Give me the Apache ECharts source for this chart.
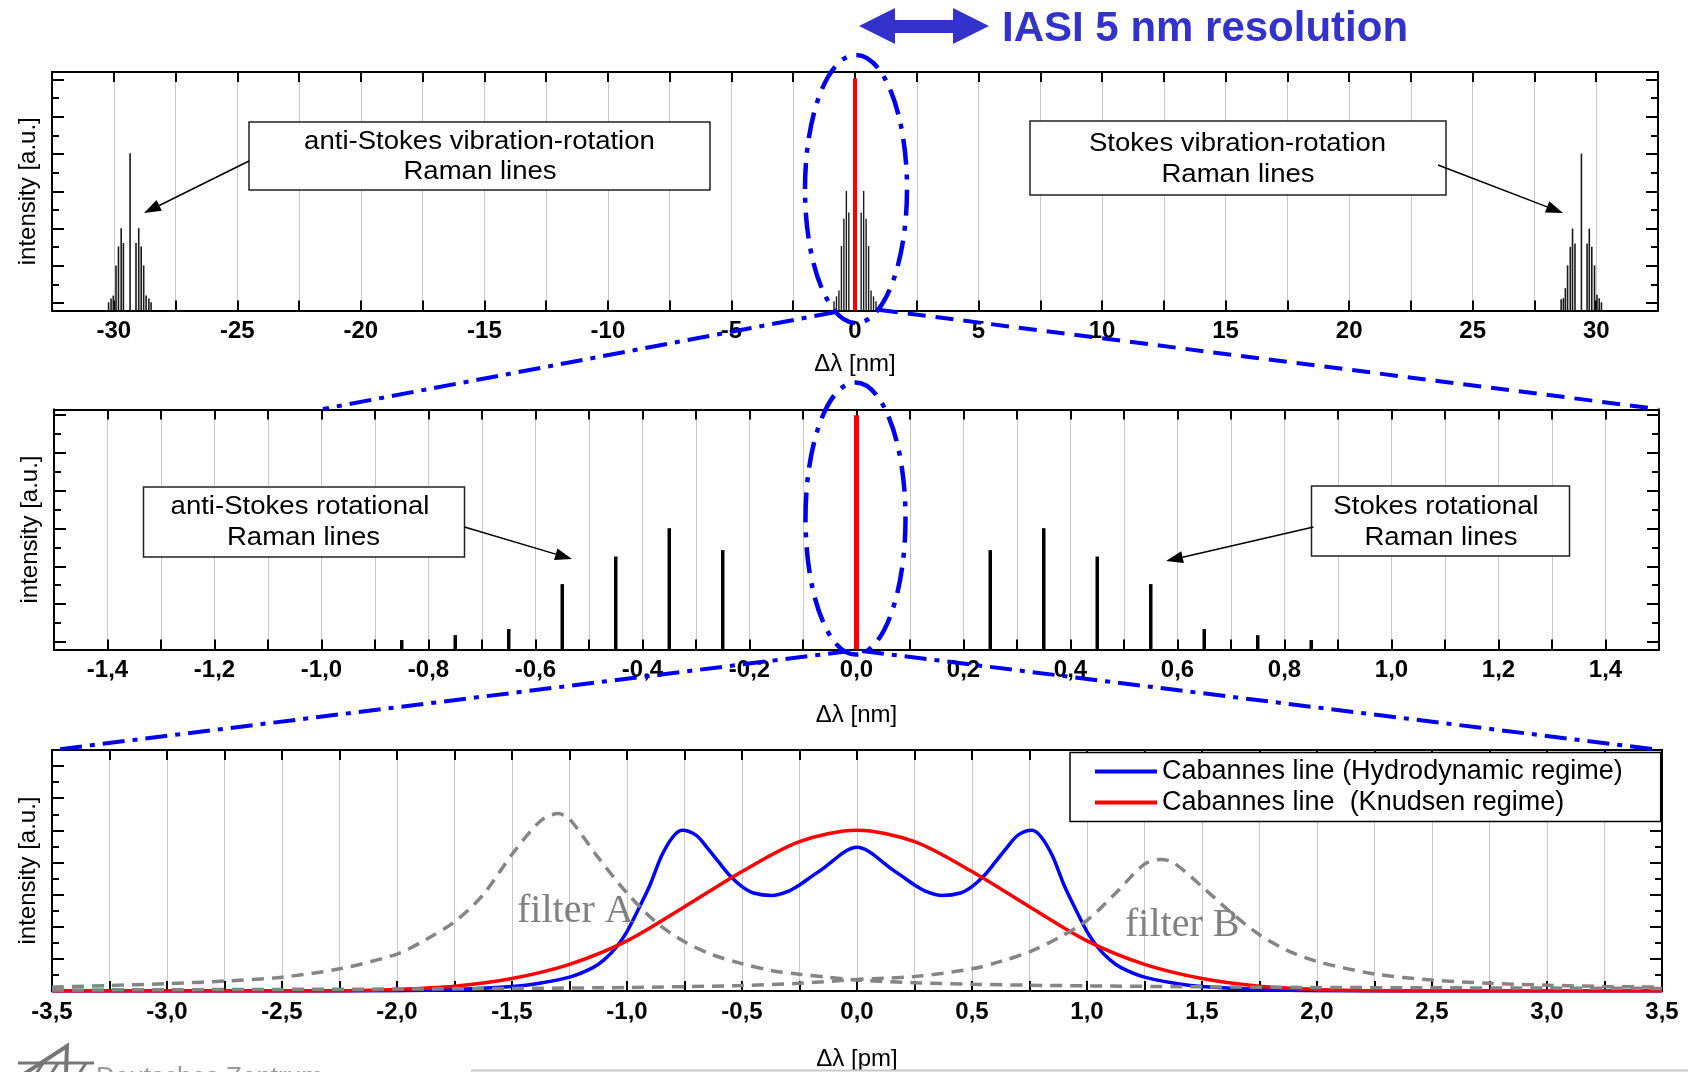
<!DOCTYPE html>
<html lang="en">
<head>
<meta charset="UTF-8">
<title>Raman / Cabannes lines</title>
<style>
    html, body { margin: 0; padding: 0; background: #ffffff; }
    #chart { width: 1688px; height: 1072px; }
</style>
</head>
<body>
<div id="chart"></div>
<script src="https://cdn.jsdelivr.net/npm/echarts@6/dist/echarts.min.js"></script>
<script>
    /* ---- data ---- */
    // top panel, vibration-rotation Raman lines [nm]
    var antiVibX = [-30.21, -30.11, -30.02, -29.91, -29.81, -29.70, -29.61, -29.34, -29.10, -28.99, -28.89, -28.79, -28.69, -28.58, -28.49];
    var antiVibY = [0.22, 0.32, 0.40, 1.21, 1.72, 2.21, 1.81, 4.22, 1.81, 2.21, 1.72, 1.21, 0.40, 0.32, 0.22];
    var stokesVibX = [28.58, 28.67, 28.75, 28.84, 28.95, 29.04, 29.14, 29.40, 29.63, 29.72, 29.82, 29.93, 30.03, 30.12, 30.21];
    var stokesVibY = [0.30, 0.33, 0.60, 1.21, 1.71, 2.20, 1.80, 4.21, 1.80, 2.20, 1.71, 1.21, 0.42, 0.33, 0.22];
    // rotational Raman lines [nm] (top centre + middle panel)
    var rotX = [-0.85, -0.75, -0.65, -0.55, -0.45, -0.35, -0.25, 0.25, 0.35, 0.45, 0.55, 0.65, 0.75, 0.85];
    var rotY = [0.25, 0.38, 0.54, 1.73, 2.46, 3.21, 2.63, 2.63, 3.21, 2.46, 1.73, 0.54, 0.38, 0.25];
    // Rayleigh (Cabannes) line
    var rayX = [0];
    var rayTopY = [6.23];
    var rayMidY = [6.2];

    // bottom panel [pm]
    var hydroX = [-3.5, -2.5, -2.0, -1.75, -1.5, -1.375, -1.25, -1.15, -1.1, -1.05, -1.0, -0.95, -0.9, -0.85, -0.8, -0.76, -0.7, -0.65, -0.6, -0.55, -0.5, -0.45, -0.37, -0.3, -0.25, -0.2, -0.15, -0.1, -0.05,
        0, 0.05, 0.1, 0.15, 0.2, 0.25, 0.3, 0.37, 0.45, 0.5, 0.55, 0.6, 0.65, 0.7, 0.76, 0.8, 0.85, 0.9, 0.95, 1.0, 1.05, 1.1, 1.15, 1.25, 1.375, 1.5, 1.75, 2.0, 2.5, 3.5];
    var hydroY = [0, 0, 0.01, 0.05, 0.14, 0.25, 0.43, 0.72, 0.97, 1.33, 1.85, 2.55, 3.3, 4.2, 4.8, 5.0, 4.85, 4.45, 4.0, 3.57, 3.25, 3.05, 2.97, 3.1, 3.3, 3.55, 3.8, 4.08, 4.35,
        4.47, 4.35, 4.08, 3.8, 3.55, 3.3, 3.1, 2.97, 3.05, 3.25, 3.57, 4.0, 4.45, 4.85, 5.0, 4.8, 4.2, 3.3, 2.55, 1.85, 1.33, 0.97, 0.72, 0.43, 0.25, 0.14, 0.05, 0.01, 0, 0];
    var knudsenX = [-3.5, -3.0, -2.5, -2.25, -2.0, -1.75, -1.5, -1.25, -1.0, -0.75, -0.5, -0.25, 0, 0.25, 0.5, 0.75, 1.0, 1.25, 1.5, 1.75, 2.0, 2.25, 2.5, 3.0, 3.5];
    var knudsenY = [0, 0, 0, 0.01, 0.05, 0.15, 0.39, 0.83, 1.56, 2.62, 3.72, 4.65, 5.0, 4.65, 3.72, 2.62, 1.56, 0.83, 0.39, 0.15, 0.05, 0.01, 0, 0, 0];
    var filterAX = [-3.5, -3.25, -3.0, -2.75, -2.5, -2.25, -2.0, -1.875, -1.75, -1.625, -1.5, -1.375, -1.3, -1.25, -1.125, -1.0, -0.875, -0.75, -0.625, -0.5, -0.375, -0.25, -0.125, 0, 0.25, 0.5, 0.75, 1.0, 1.5, 2.0, 2.5, 3.0, 3.5];
    var filterAY = [0.12, 0.17, 0.23, 0.31, 0.43, 0.69, 1.15, 1.6, 2.15, 3.0, 4.25, 5.3, 5.52, 5.35, 4.15, 3.05, 2.15, 1.53, 1.12, 0.85, 0.64, 0.52, 0.43, 0.34, 0.26, 0.21, 0.18, 0.16, 0.13, 0.11, 0.1, 0.09, 0.08];
    var filterBX = [-3.5, -3.0, -2.5, -2.0, -1.5, -1.0, -0.5, -0.25, 0, 0.25, 0.5, 0.625, 0.75, 0.875, 1.0, 1.125, 1.25, 1.32, 1.375, 1.5, 1.625, 1.75, 1.875, 2.0, 2.25, 2.5, 2.75, 3.0, 3.25, 3.5];
    var filterBY = [0.03, 0.04, 0.05, 0.06, 0.08, 0.11, 0.17, 0.24, 0.36, 0.45, 0.69, 0.92, 1.22, 1.65, 2.2, 3.05, 3.95, 4.09, 4.0, 3.25, 2.45, 1.75, 1.25, 0.92, 0.53, 0.34, 0.24, 0.18, 0.14, 0.12];

    // labelled ticks
    var topLabels = [-30, -25, -20, -15, -10, -5, 0, 5, 10, 15, 20, 25, 30];
    var midLabels = [-1.4, -1.2, -1.0, -0.8, -0.6, -0.4, -0.2, 0, 0.2, 0.4, 0.6, 0.8, 1.0, 1.2, 1.4];
    var botLabels = [-3.5, -3.0, -2.5, -2.0, -1.5, -1.0, -0.5, 0, 0.5, 1.0, 1.5, 2.0, 2.5, 3.0, 3.5];
    // y ticks (no labels)
    var nmMajorTicks = [0.2, 1.2, 2.2, 3.2, 4.2, 5.2, 6.2];
    var nmMinorTicks = [0.7, 1.7, 2.7, 3.7, 4.7, 5.7];
    var pmMajorTicks = [1, 2, 3, 4, 5, 6, 7];
    var pmMinorTicks = [0.5, 1.5, 2.5, 3.5, 4.5, 5.5, 6.5];

    var hydroName = 'Cabannes line (Hydrodynamic regime)';
    var knudsenName = 'Cabannes line  (Knudsen regime)';

    /* ---- helpers ---- */
    var FONT = '"Liberation Sans", Arial, sans-serif';
    var ZOOM_BLUE = '#0000f0';

    function pairs(xs, ys) {
        return xs.map(function (x, i) { return [x, ys[i]]; });
    }

    function stick(width, color) {
        return function (params, api) {
            var top = api.coord([api.value(0), api.value(1)]);
            var base = api.coord([api.value(0), 0]);
            return {
                type: 'rect',
                shape: {x: top[0] - width / 2, y: top[1], width: width, height: base[1] - top[1]},
                style: {fill: color}
            };
        };
    }

    function pick(list, v) {
        for (var i = 0; i < list.length; i++) {
            if (Math.abs(list[i] - v) < 1e-6) return list[i];
        }
        return null;
    }

    function xAxes(gi, min, max, step, labels, comma, name, nameGap) {
        var line = {onZero: false, lineStyle: {color: '#000', width: 2}};
        var tick = {inside: true, length: 10, lineStyle: {color: '#000', width: 2}};
        return [{
            gridIndex: gi, type: 'value', position: 'bottom', min: min, max: max, interval: step,
            name: name, nameLocation: 'middle', nameGap: nameGap,
            nameTextStyle: {fontFamily: FONT, fontSize: 24, color: '#000'},
            axisLine: line, axisTick: tick,
            axisLabel: {
                margin: 9, color: '#000', fontFamily: FONT, fontSize: 24, fontWeight: 'bold',
                formatter: function (v) {
                    var p = pick(labels, v);
                    if (p === null) return '';
                    return comma ? p.toFixed(1).replace('.', ',') : String(p);
                }
            },
            splitLine: {show: true, lineStyle: {color: '#c8c8c8', width: 1}}
        }, {
            gridIndex: gi, type: 'value', position: 'top', min: min, max: max, interval: step,
            axisLine: line, axisTick: tick, axisLabel: {show: false}, splitLine: {show: false}
        }];
    }

    function yAxes(gi, max, major, minor) {
        function one(pos, ticks, len, withName) {
            var a = {
                gridIndex: gi, type: 'value', position: pos, min: 0, max: max,
                axisLine: {show: true, onZero: false, lineStyle: {color: '#000', width: 2}},
                axisTick: {show: true, inside: true, length: len, customValues: ticks, lineStyle: {color: '#000', width: 2}},
                axisLabel: {show: false},
                splitLine: {show: false}
            };
            if (withName) {
                a.name = 'intensity [a.u.]';
                a.nameLocation = 'middle';
                a.nameRotate = 90;
                a.nameGap = 12;
                a.nameTextStyle = {fontFamily: FONT, fontSize: 24, color: '#000'};
            }
            return a;
        }
        return [one('left', major, 12, true), one('left', minor, 7, false),
            one('right', major, 12, false), one('right', minor, 7, false)];
    }

    function arrow(x1, y1, x2, y2) {
        var a = Math.atan2(y2 - y1, x2 - x1), L = 17, W = 6;
        var bx = x2 - L * Math.cos(a), by = y2 - L * Math.sin(a);
        var px = -Math.sin(a) * W, py = Math.cos(a) * W;
        return [
            {type: 'line', z: 100, shape: {x1: x1, y1: y1, x2: bx, y2: by}, style: {stroke: '#000', lineWidth: 1.5}},
            {type: 'polygon', z: 100, shape: {points: [[x2, y2], [bx + px, by + py], [bx - px, by - py]]}, style: {fill: '#000'}}
        ];
    }

    function note(cx, cy, txt) {
        return {
            type: 'text', z: 101, x: cx, y: cy, scaleX: 1.06,
            style: {text: txt, x: 0, y: 0, align: 'center', verticalAlign: 'middle',
                fontFamily: FONT, fontSize: 26, fill: '#000'}
        };
    }

    function box(x, y, w, h) {
        return {type: 'rect', z: 100, shape: {x: x, y: y, width: w, height: h},
            style: {fill: '#fff', stroke: '#222', lineWidth: 1.5}};
    }

    function zoomLine(x1, y1, x2, y2, dash) {
        return {type: 'line', z: 102, shape: {x1: x1, y1: y1, x2: x2, y2: y2},
            style: {stroke: ZOOM_BLUE, lineWidth: 4, lineDash: dash}};
    }

    var DASHDOT = [22, 8, 5, 8];

    var overlay = [
        // title
        {type: 'polygon', z: 100, shape: {points: [[859, 26], [895, 8], [895, 20], [953, 20], [953, 8], [989, 26], [953, 44], [953, 33], [895, 33], [895, 44]]},
            style: {fill: '#3333cc'}},
        {type: 'text', z: 100, style: {text: 'IASI 5 nm resolution', x: 1002, y: 29, align: 'left', verticalAlign: 'middle',
                fontFamily: FONT, fontSize: 42, fontWeight: 'bold', fill: '#3333cc'}},
        // ellipses around the central lines
        {type: 'ellipse', z: 102, shape: {cx: 856, cy: 189, rx: 51, ry: 134},
            style: {fill: 'none', stroke: ZOOM_BLUE, lineWidth: 4.5, lineDash: [26, 10, 5, 10]}},
        {type: 'ellipse', z: 102, shape: {cx: 855.5, cy: 518.5, rx: 50, ry: 136},
            style: {fill: 'none', stroke: ZOOM_BLUE, lineWidth: 4.5, lineDash: [26, 10, 5, 10]}},
        // zoom lines between panels
        zoomLine(836, 312, 323, 409, DASHDOT),
        zoomLine(880, 310, 1658, 409, [18, 10]),
        zoomLine(850, 651, 53, 750, DASHDOT),
        zoomLine(862, 651, 1660, 750, DASHDOT),
        // annotation boxes
        box(249, 122, 461, 68),
        note(479.5, 142, 'anti-Stokes vibration-rotation'),
        note(480, 172, 'Raman lines'),
        box(1030, 121, 416, 74),
        note(1237.5, 144, 'Stokes vibration-rotation'),
        note(1238, 175, 'Raman lines'),
        box(143.5, 487, 321, 70),
        note(300, 507, 'anti-Stokes rotational'),
        note(303.5, 538, 'Raman lines'),
        box(1311.5, 486, 258, 70),
        note(1436, 507, 'Stokes rotational'),
        note(1441, 538, 'Raman lines'),
        // filter labels
        {type: 'text', z: 100, style: {text: 'filter A', x: 517, y: 911, align: 'left', verticalAlign: 'middle',
                fontFamily: '"Liberation Serif", "Times New Roman", serif', fontSize: 40, fill: '#808080'}},
        {type: 'text', z: 100, style: {text: 'filter B', x: 1125, y: 925, align: 'left', verticalAlign: 'middle',
                fontFamily: '"Liberation Serif", "Times New Roman", serif', fontSize: 40, fill: '#808080'}},
        // cut-off footer
        {type: 'line', z: 100, shape: {x1: 471, y1: 1070.5, x2: 1688, y2: 1070.5}, style: {stroke: '#c8c8c8', lineWidth: 2}},
        {type: 'polyline', z: 100, shape: {points: [[24, 1074], [67, 1046], [66, 1074]]}, style: {stroke: '#777', lineWidth: 4, fill: 'none'}},
        {type: 'line', z: 100, shape: {x1: 18, y1: 1063, x2: 94, y2: 1063}, style: {stroke: '#777', lineWidth: 3}},
        {type: 'line', z: 100, shape: {x1: 36, y1: 1074, x2: 43, y2: 1063}, style: {stroke: '#777', lineWidth: 3}},
        {type: 'line', z: 100, shape: {x1: 51, y1: 1074, x2: 58, y2: 1063}, style: {stroke: '#777', lineWidth: 3}},
        {type: 'line', z: 100, shape: {x1: 79, y1: 1074, x2: 86, y2: 1063}, style: {stroke: '#777', lineWidth: 3}},
        {type: 'text', z: 100, style: {text: 'Deutsches Zentrum', x: 96, y: 1065, align: 'left', verticalAlign: 'top',
                fontFamily: FONT, fontSize: 26, fill: '#999'}}
    ];
    overlay = overlay.concat(
        arrow(249, 161, 144, 213),
        arrow(1438, 165, 1563, 213),
        arrow(464.5, 527, 572, 559),
        arrow(1313.5, 527, 1166, 561)
    );

    /* ---- chart ---- */
    var chart = echarts.init(document.getElementById('chart'), null, {renderer: 'canvas'});
    var option = {
        backgroundColor: '#ffffff',
        animation: false,
        grid: [
            {left: 52, top: 72, width: 1606, height: 238.5},
            {left: 54, top: 409.5, width: 1605, height: 240},
            {left: 52, top: 750, width: 1610, height: 242}
        ],
        xAxis: [].concat(
            xAxes(0, -32.5, 32.5, 2.5, topLabels, false, 'Δλ [nm]', 42),
            xAxes(1, -1.5, 1.5, 0.1, midLabels, true, 'Δλ [nm]', 54),
            xAxes(2, -3.5, 3.5, 0.25, botLabels, true, 'Δλ [pm]', 56)
        ),
        yAxis: [].concat(
            yAxes(0, 6.4, nmMajorTicks, nmMinorTicks),
            yAxes(1, 6.35, nmMajorTicks, nmMinorTicks),
            yAxes(2, 7.5, pmMajorTicks, pmMinorTicks)
        ),
        legend: {
            data: [hydroName, knudsenName],
            orient: 'vertical',
            left: 1070, top: 752.5,
            padding: [4, 38, 4, 25],
            icon: 'rect',
            itemGap: 1, itemWidth: 62, itemHeight: 4,
            backgroundColor: '#fff', borderColor: '#000', borderWidth: 1.5, borderRadius: 0,
            textStyle: {fontFamily: FONT, fontSize: 27, color: '#000', lineHeight: 30},
            z: 20
        },
        graphic: overlay,
        series: [
            // top panel
            {type: 'custom', xAxisIndex: 0, yAxisIndex: 0, data: pairs(antiVibX, antiVibY), renderItem: stick(1.6, '#1a1a1a'), encode: {x: 0, y: 1}, z: 3, silent: true},
            {type: 'custom', xAxisIndex: 0, yAxisIndex: 0, data: pairs(stokesVibX, stokesVibY), renderItem: stick(1.6, '#1a1a1a'), encode: {x: 0, y: 1}, z: 3, silent: true},
            {type: 'custom', xAxisIndex: 0, yAxisIndex: 0, data: pairs(rotX, rotY), renderItem: stick(1.4, '#1a1a1a'), encode: {x: 0, y: 1}, z: 3, silent: true},
            {type: 'custom', xAxisIndex: 0, yAxisIndex: 0, data: pairs(rayX, rayTopY), renderItem: stick(4, '#ff0000'), encode: {x: 0, y: 1}, z: 4, silent: true},
            // middle panel
            {type: 'custom', xAxisIndex: 2, yAxisIndex: 4, data: pairs(rotX, rotY), renderItem: stick(3.5, '#000'), encode: {x: 0, y: 1}, z: 3, silent: true},
            {type: 'custom', xAxisIndex: 2, yAxisIndex: 4, data: pairs(rayX, rayMidY), renderItem: stick(5, '#ff0000'), encode: {x: 0, y: 1}, z: 4, silent: true},
            // bottom panel
            {name: hydroName, type: 'line', xAxisIndex: 4, yAxisIndex: 8, data: pairs(hydroX, hydroY),
                showSymbol: false, symbol: 'none', smooth: 0.3, z: 3,
                lineStyle: {color: '#0000ff', width: 3.5}, itemStyle: {color: '#0000ff'}},
            {name: knudsenName, type: 'line', xAxisIndex: 4, yAxisIndex: 8, data: pairs(knudsenX, knudsenY),
                showSymbol: false, symbol: 'none', smooth: 0.3, z: 4,
                lineStyle: {color: '#ff0000', width: 3.5}, itemStyle: {color: '#ff0000'}},
            {name: 'filter A', type: 'line', xAxisIndex: 4, yAxisIndex: 8, data: pairs(filterAX, filterAY),
                showSymbol: false, symbol: 'none', smooth: 0.3, z: 5,
                lineStyle: {color: '#858585', width: 3.5, type: [12, 8]}, itemStyle: {color: '#858585'}},
            {name: 'filter B', type: 'line', xAxisIndex: 4, yAxisIndex: 8, data: pairs(filterBX, filterBY),
                showSymbol: false, symbol: 'none', smooth: 0.3, z: 5,
                lineStyle: {color: '#858585', width: 3.5, type: [12, 8]}, itemStyle: {color: '#858585'}}
        ]
    };
    chart.setOption(option);
</script>
</body>
</html>
